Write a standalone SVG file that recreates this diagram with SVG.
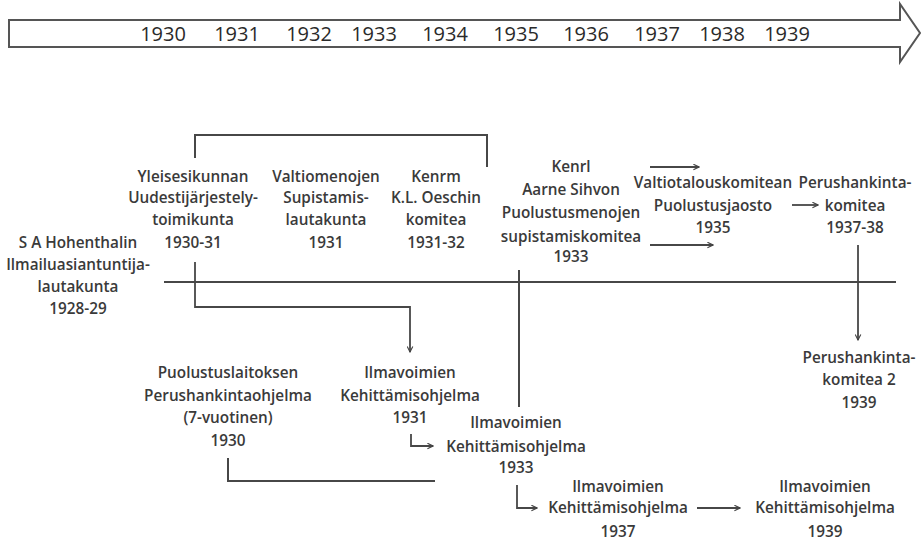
<svg xmlns="http://www.w3.org/2000/svg" width="922" height="540" viewBox="0 0 922 540">
  <defs>
    <marker id="head" viewBox="0 0 10 10" refX="9" refY="5" markerWidth="7" markerHeight="7" markerUnits="userSpaceOnUse" orient="auto">
      <path d="M1,1 L9,5 L1,9" fill="none" stroke="#444" stroke-width="1.6"/>
    </marker>
    <style>
      .lbl { font-family: "Open Sans", "Liberation Sans", sans-serif; font-size: 15.3px; font-weight: 600; fill: #3a3a3a; text-anchor: middle; }
      .yr { font-family: "Open Sans", "Liberation Sans", sans-serif; font-size: 20px; fill: #2a2a2a; text-anchor: middle; }
      .ln { fill: none; stroke: #474747; stroke-width: 2; }
      .arr { fill: none; stroke: #474747; stroke-width: 1.8; marker-end: url(#head); }
    </style>
  </defs>
  <rect width="922" height="540" fill="#ffffff"/>

  <!-- timeline arrow -->
  <g id="timeline">
    <path d="M9,20 L900,20 L900,4 L920,33 L900,62 L900,47 L9,47 Z" fill="#ffffff" stroke="#555" stroke-width="2" stroke-linejoin="miter"/>
    <text class="yr" x="163" y="41">1930</text>
    <text class="yr" x="237" y="41">1931</text>
    <text class="yr" x="309" y="41">1932</text>
    <text class="yr" x="374" y="41">1933</text>
    <text class="yr" x="445" y="41">1934</text>
    <text class="yr" x="516" y="41">1935</text>
    <text class="yr" x="586" y="41">1936</text>
    <text class="yr" x="657" y="41">1937</text>
    <text class="yr" x="722" y="41">1938</text>
    <text class="yr" x="787" y="41">1939</text>
  </g>

  <!-- connectors -->
  <g id="connectors">
    <line class="ln" x1="164" y1="282" x2="896" y2="282"/>
    <path class="ln" d="M195,158 L195,135 L487,135 L487,167"/>
    <path class="arr" d="M195,262 L195,307 L410,307 L410,352"/>
    <path class="arr" d="M650,167 L699,167"/>
    <path class="arr" d="M650,245 L713,245"/>
    <path class="arr" d="M792,205 L818,205"/>
    <path class="arr" d="M858,245 L858,340"/>
    <line class="ln" x1="519" y1="270" x2="519" y2="407"/>
    <path class="ln" d="M228,458 L228,481 L435,481"/>
    <path class="arr" d="M411,434 L411,446 L433,446"/>
    <path class="arr" d="M517,485 L517,508 L537,508"/>
    <path class="arr" d="M697,508 L740,508"/>
  </g>

  <g id="hohenthal">
    <text class="lbl" x="78" y="248">S A Hohenthalin</text>
    <text class="lbl" x="78" y="270">Ilmailuasiantuntija-</text>
    <text class="lbl" x="78" y="292">lautakunta</text>
    <text class="lbl" x="78" y="314">1928-29</text>
  </g>
  <g id="yleisesikunta">
    <text class="lbl" x="193" y="182">Yleisesikunnan</text>
    <text class="lbl" x="193" y="203">Uudestijärjestely-</text>
    <text class="lbl" x="193" y="225">toimikunta</text>
    <text class="lbl" x="193" y="248">1930-31</text>
  </g>
  <g id="valtiomenot">
    <text class="lbl" x="326" y="182">Valtiomenojen</text>
    <text class="lbl" x="326" y="203">Supistamis-</text>
    <text class="lbl" x="326" y="225">lautakunta</text>
    <text class="lbl" x="326" y="248">1931</text>
  </g>
  <g id="oesch">
    <text class="lbl" x="436" y="182">Kenrm</text>
    <text class="lbl" x="436" y="203">K.L. Oeschin</text>
    <text class="lbl" x="436" y="225">komitea</text>
    <text class="lbl" x="436" y="248">1931-32</text>
  </g>
  <g id="sihvo">
    <text class="lbl" x="571" y="172">Kenrl</text>
    <text class="lbl" x="571" y="195">Aarne Sihvon</text>
    <text class="lbl" x="571" y="218">Puolustusmenojen</text>
    <text class="lbl" x="571" y="242">supistamiskomitea</text>
    <text class="lbl" x="571" y="262">1933</text>
  </g>
  <g id="valtiotalous">
    <text class="lbl" x="713" y="188">Valtiotalouskomitean</text>
    <text class="lbl" x="713" y="211">Puolustusjaosto</text>
    <text class="lbl" x="713" y="233">1935</text>
  </g>
  <g id="perushankinta1">
    <text class="lbl" x="855" y="188">Perushankinta-</text>
    <text class="lbl" x="855" y="211">komitea</text>
    <text class="lbl" x="855" y="233">1937-38</text>
  </g>
  <g id="perushankinta2">
    <text class="lbl" x="859" y="363">Perushankinta-</text>
    <text class="lbl" x="859" y="385">komitea 2</text>
    <text class="lbl" x="859" y="408">1939</text>
  </g>
  <g id="perushankintaohjelma">
    <text class="lbl" x="228" y="378">Puolustuslaitoksen</text>
    <text class="lbl" x="228" y="401">Perushankintaohjelma</text>
    <text class="lbl" x="228" y="423">(7-vuotinen)</text>
    <text class="lbl" x="228" y="446">1930</text>
  </g>
  <g id="kehitys1931">
    <text class="lbl" x="410" y="378">Ilmavoimien</text>
    <text class="lbl" x="410" y="401">Kehittämisohjelma</text>
    <text class="lbl" x="410" y="423">1931</text>
  </g>
  <g id="kehitys1933">
    <text class="lbl" x="516" y="428">Ilmavoimien</text>
    <text class="lbl" x="516" y="452">Kehittämisohjelma</text>
    <text class="lbl" x="516" y="473">1933</text>
  </g>
  <g id="kehitys1937">
    <text class="lbl" x="618" y="492">Ilmavoimien</text>
    <text class="lbl" x="618" y="513">Kehittämisohjelma</text>
    <text class="lbl" x="618" y="537">1937</text>
  </g>
  <g id="kehitys1939">
    <text class="lbl" x="825" y="492">Ilmavoimien</text>
    <text class="lbl" x="825" y="513">Kehittämisohjelma</text>
    <text class="lbl" x="825" y="537">1939</text>
  </g>
</svg>
